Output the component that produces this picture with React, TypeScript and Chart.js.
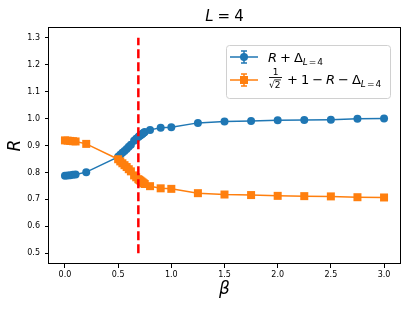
import { useEffect, useRef } from "react";
import { Chart, registerables } from "chart.js";
Chart.register(...registerables);

const beta = [0, 0.025, 0.05, 0.075, 0.1, 0.2, 0.5, 0.52, 0.54, 0.56, 0.58, 0.6, 0.62, 0.65, 0.67, 0.69, 0.7, 0.71, 0.72, 0.73, 0.74, 0.75, 0.8, 0.9, 1.0, 1.25, 1.5, 1.75, 2.0, 2.25, 2.5, 2.75, 3.0];
const rPlusDelta = [0.788, 0.789, 0.790, 0.791, 0.792, 0.801, 0.858, 0.866, 0.873, 0.880, 0.887, 0.895, 0.903, 0.918, 0.925, 0.932, 0.935, 0.938, 0.941, 0.944, 0.947, 0.950, 0.958, 0.966, 0.968, 0.984, 0.989, 0.991, 0.994, 0.995, 0.996, 0.999, 1.000];
const complement = [0.919, 0.918, 0.917, 0.916, 0.915, 0.906, 0.849, 0.841, 0.834, 0.827, 0.820, 0.812, 0.804, 0.789, 0.782, 0.775, 0.772, 0.769, 0.766, 0.763, 0.760, 0.757, 0.749, 0.741, 0.739, 0.723, 0.718, 0.716, 0.713, 0.712, 0.711, 0.708, 0.707];
const criticalBeta = 0.69;
const criticalSpan = [0.5, 1.3];
const xTicks = [0, 0.5, 1.0, 1.5, 2.0, 2.5, 3.0];
const yTicks = [0.5, 0.6, 0.7, 0.8, 0.9, 1.0, 1.1, 1.2, 1.3];

const BLUE = "#1f77b4";
const ORANGE = "#ff7f0e";
const FAM = "'DejaVu Sans', sans-serif";

type Run = { t: string; size: number; italic?: boolean; dy?: number; gapAfter?: number };

function drawRuns(ctx: CanvasRenderingContext2D, x: number, y: number, runs: Run[]) {
  let cx = x;
  for (const r of runs) {
    ctx.font = `${r.italic ? "italic " : ""}${r.size}px ${FAM}`;
    ctx.fillText(r.t, cx, y + (r.dy || 0));
    cx += ctx.measureText(r.t).width + (r.gapAfter || 0);
  }
  return cx;
}

function runsWidth(ctx: CanvasRenderingContext2D, runs: Run[]) {
  let w = 0;
  for (const r of runs) {
    ctx.font = `${r.italic ? "italic " : ""}${r.size}px ${FAM}`;
    w += ctx.measureText(r.t).width + (r.gapAfter || 0);
  }
  return w;
}

const decorPlugin = {
  id: "decor",
  afterDraw(chart: any) {
    const ctx: CanvasRenderingContext2D = chart.ctx;
    const a = chart.chartArea;
    ctx.save();
    // frame
    ctx.strokeStyle = "#000";
    ctx.lineWidth = 1;
    ctx.strokeRect(Math.round(a.left) - 0.5, Math.round(a.top) + 0.5, Math.round(a.right - a.left) + 1, Math.round(a.bottom - a.top) - 1);

    ctx.fillStyle = "#000";
    ctx.textBaseline = "alphabetic";
    ctx.textAlign = "left";
    // title
    const titleRuns: Run[] = [
      { t: "L", size: 15, italic: true, gapAfter: 4 },
      { t: "=", size: 15, gapAfter: 4 },
      { t: "4", size: 15 },
    ];
    const tw = runsWidth(ctx, titleRuns);
    drawRuns(ctx, (a.left + a.right) / 2 - tw / 2, 21, titleRuns);

    // x axis title
    ctx.font = `italic 17px ${FAM}`;
    ctx.textAlign = "center";
    ctx.fillText("β", (a.left + a.right) / 2, 294);
    // y axis title
    ctx.save();
    ctx.translate(20, (a.top + a.bottom) / 2);
    ctx.rotate(-Math.PI / 2);
    ctx.fillText("R", 0, 0);
    ctx.restore();
    ctx.textAlign = "left";

    // legend box
    const bx = 226, by = 45, bw = 164, bh = 53;
    ctx.beginPath();
    (ctx as any).roundRect(bx + 0.5, by + 0.5, bw, bh, 3);
    ctx.fillStyle = "rgba(255,255,255,0.8)";
    ctx.fill();
    ctx.strokeStyle = "#d0d0d0";
    ctx.lineWidth = 1;
    ctx.stroke();

    const handle = (y: number, color: string, square: boolean) => {
      ctx.strokeStyle = color;
      ctx.fillStyle = color;
      ctx.lineWidth = 1.5;
      ctx.beginPath();
      ctx.moveTo(230, y);
      ctx.lineTo(258, y);
      ctx.moveTo(244, y - 6);
      ctx.lineTo(244, y + 6);
      ctx.moveTo(241, y - 6);
      ctx.lineTo(247, y - 6);
      ctx.moveTo(241, y + 6);
      ctx.lineTo(247, y + 6);
      ctx.stroke();
      ctx.beginPath();
      if (square) ctx.rect(240, y - 4, 8, 8);
      else ctx.arc(244, y, 4, 0, Math.PI * 2);
      ctx.fill();
    };
    handle(57, BLUE, false);
    handle(80, ORANGE, true);

    ctx.fillStyle = "#000";
    drawRuns(ctx, 268, 62, [
      { t: "R", size: 13, italic: true, gapAfter: 3 },
      { t: "+", size: 13, gapAfter: 3 },
      { t: "Δ", size: 13 },
      { t: "L", size: 9, italic: true, dy: 3, gapAfter: 1 },
      { t: "=", size: 9, dy: 3, gapAfter: 1 },
      { t: "4", size: 9, dy: 3 },
    ]);

    // fraction 1/sqrt(2)
    ctx.font = `9px ${FAM}`;
    ctx.textAlign = "center";
    ctx.fillText("1", 275.5, 75);
    ctx.fillRect(269, 77, 13, 0.9);
    ctx.textAlign = "left";
    ctx.fillText("√", 269, 88);
    const sw = ctx.measureText("√").width;
    ctx.fillText("2", 269 + sw, 88);
    const w2 = ctx.measureText("2").width;
    ctx.fillRect(269 + sw - 0.5, 79.5, w2 + 1, 0.8);

    drawRuns(ctx, 287, 84, [
      { t: "+", size: 13, gapAfter: 3 },
      { t: "1", size: 13, gapAfter: 3 },
      { t: "−", size: 13, gapAfter: 3 },
      { t: "R", size: 13, italic: true, gapAfter: 3 },
      { t: "−", size: 13, gapAfter: 3 },
      { t: "Δ", size: 13 },
      { t: "L", size: 9, italic: true, dy: 3, gapAfter: 1 },
      { t: "=", size: 9, dy: 3, gapAfter: 1 },
      { t: "4", size: 9, dy: 3 },
    ]);
    ctx.restore();
  },
};

export default function App() {
  const ref = useRef<HTMLCanvasElement>(null);
  useEffect(() => {
    document.body.style.margin = "0";
    const canvas = ref.current!;
    const tickFont = { size: 8, family: FAM };
    const chart = new Chart(canvas, {
      type: "scatter",
      data: {
        datasets: [
          {
            label: "red",
            data: criticalSpan.map((y) => ({ x: criticalBeta, y })),
            showLine: true,
            borderColor: "#ff0000",
            borderWidth: 2.5,
            borderDash: [9, 4],
            pointRadius: 0,
            order: 0,
          },
          {
            label: "R + Δ",
            data: beta.map((x, i) => ({ x, y: rPlusDelta[i] })),
            showLine: true,
            borderColor: BLUE,
            backgroundColor: BLUE,
            borderWidth: 1.5,
            pointRadius: 4,
            pointStyle: "circle",
            pointBorderWidth: 0,
            order: 2,
          },
          {
            label: "1/sqrt2 + 1 - R - Δ",
            data: beta.map((x, i) => ({ x, y: complement[i] })),
            showLine: true,
            borderColor: ORANGE,
            backgroundColor: ORANGE,
            borderWidth: 1.5,
            pointRadius: 5.66,
            pointStyle: "rect",
            pointBorderWidth: 0,
            order: 1,
          },
        ],
      },
      options: {
        animation: false,
        responsive: false,
        layout: { padding: { left: 0, right: 15, top: 27, bottom: 0 } },
        plugins: { legend: { display: false }, tooltip: { enabled: false }, title: { display: false } },
        scales: {
          x: {
            type: "linear",
            min: -0.15,
            max: 3.15,
            afterBuildTicks: (s: any) => {
              s.ticks = xTicks.map((v) => ({ value: v }));
            },
            afterFit: (s: any) => {
              s.height = 47;
            },
            ticks: {
              callback: (v: any) => Number(v).toFixed(1),
              font: tickFont,
              color: "#000",
              padding: 2,
              maxRotation: 0,
              autoSkip: false,
            },
            grid: { drawOnChartArea: false, drawTicks: true, tickLength: 4, tickColor: "#000" },
            border: { display: false },
          },
          y: {
            type: "linear",
            min: 0.46,
            max: 1.34,
            afterBuildTicks: (s: any) => {
              s.ticks = yTicks.map((v) => ({ value: v }));
            },
            afterFit: (s: any) => {
              s.width = 49;
            },
            ticks: {
              callback: (v: any) => Number(v).toFixed(1),
              font: tickFont,
              color: "#000",
              padding: 5,
              autoSkip: false,
            },
            grid: { drawOnChartArea: false, drawTicks: true, tickLength: 4, tickColor: "#000" },
            border: { display: false },
          },
        },
      },
      plugins: [decorPlugin],
    } as any);
    return () => chart.destroy();
  }, []);
  return <canvas ref={ref} width={415} height={311} style={{ display: "block" }} />;
}
